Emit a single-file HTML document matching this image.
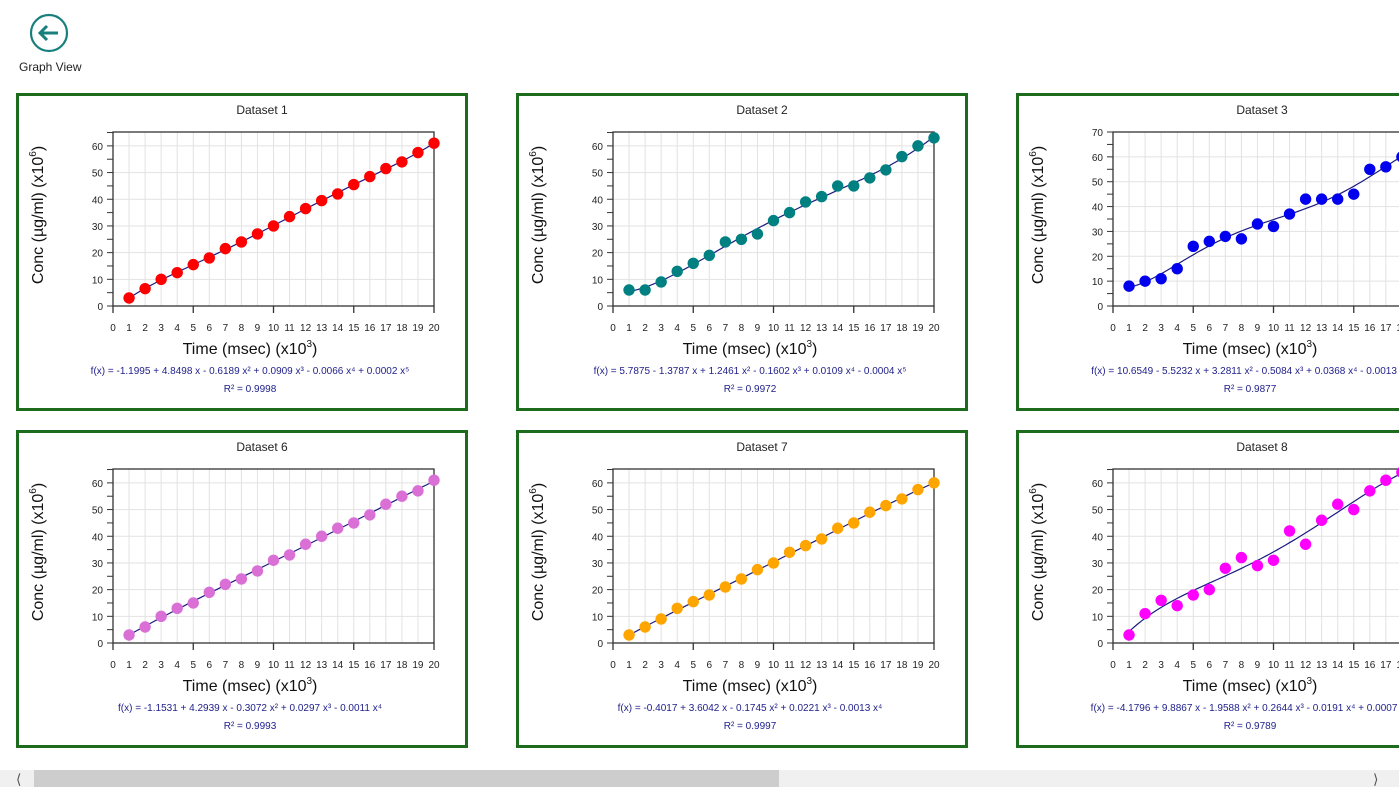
<!DOCTYPE html>
<html><head><meta charset="utf-8"><style>
html,body{margin:0;padding:0;width:1399px;height:787px;overflow:hidden;background:#fff;font-family:"Liberation Sans",sans-serif}
</style></head><body>
<svg id="s" width="1399" height="787" xmlns="http://www.w3.org/2000/svg" style="position:absolute;left:0;top:0;font-family:'Liberation Sans',sans-serif">
<circle cx="49" cy="33" r="18" fill="none" stroke="#18807c" stroke-width="2.2"/>
<path d="M40 33 H58 M47 26 L40 33 L47 40" fill="none" stroke="#18807c" stroke-width="3"/>
<text x="19" y="71" font-size="12" fill="#222">Graph View</text>
<rect x="0" y="770" width="1399" height="17" fill="#f0f0f0"/>
<rect x="34" y="770" width="745" height="17" fill="#cdcdcd"/>
<text x="16" y="784" font-size="14" fill="#555">&#10216;</text>
<text x="1373" y="784" font-size="14" fill="#555">&#10217;</text>
</svg>
<script>
const NS="http://www.w3.org/2000/svg",S=document.getElementById('s');
function el(t,a,txt){const e=document.createElementNS(NS,t);for(const k in a)e.setAttribute(k,a[k]);if(txt!=null)e.textContent=txt;S.appendChild(e);return e;}
function fit(y,deg){const n=y.length,m=deg+1,A=[],b=[];for(let i=0;i<m;i++){A.push(new Array(m).fill(0));b.push(0);}
for(let k=0;k<n;k++){const x=(k+1)/20;for(let i=0;i<m;i++){b[i]+=y[k]*Math.pow(x,i);for(let j=0;j<m;j++)A[i][j]+=Math.pow(x,i+j);}}
for(let i=0;i<m;i++){let p=i;for(let r=i+1;r<m;r++)if(Math.abs(A[r][i])>Math.abs(A[p][i]))p=r;[A[i],A[p]]=[A[p],A[i]];[b[i],b[p]]=[b[p],b[i]];
for(let r=i+1;r<m;r++){const f=A[r][i]/A[i][i];for(let c=i;c<m;c++)A[r][c]-=f*A[i][c];b[r]-=f*b[i];}}
const c=new Array(m).fill(0);for(let i=m-1;i>=0;i--){let s=b[i];for(let j=i+1;j<m;j++)s-=A[i][j]*c[j];c[i]=s/A[i][i];}
return x=>{let s=0;for(let i=0;i<m;i++)s+=c[i]*Math.pow(x/20,i);return s;};}
const P=[
{L:16,T:93,n:1,c:"#ff0000",max:65.2,d:[3,6.5,10,12.5,15.5,18,21.5,24,27,30,33.5,36.5,39.5,42,45.5,48.5,51.5,54,57.5,61],deg:5,eq:"f(x) = -1.1995 + 4.8498 x - 0.6189 x² + 0.0909 x³ - 0.0066 x⁴ + 0.0002 x⁵",r:"0.9998"},
{L:516,T:93,n:2,c:"#008080",max:65.2,d:[6,6,9,13,16,19,24,25,27,32,35,39,41,45,45,48,51,56,60,63],deg:5,eq:"f(x) = 5.7875 - 1.3787 x + 1.2461 x² - 0.1602 x³ + 0.0109 x⁴ - 0.0004 x⁵",r:"0.9972"},
{L:1016,T:93,n:3,c:"#0000ee",max:70,d:[8,10,11,15,24,26,28,27,33,32,37,43,43,43,45,55,56,60,63,66],deg:5,eq:"f(x) = 10.6549 - 5.5232 x + 3.2811 x² - 0.5084 x³ + 0.0368 x⁴ - 0.0013 x⁵",r:"0.9877"},
{L:16,T:430,n:6,c:"#da70d6",max:65.2,d:[3,6,10,13,15,19,22,24,27,31,33,37,40,43,45,48,52,55,57,61],deg:4,eq:"f(x) = -1.1531 + 4.2939 x - 0.3072 x² + 0.0297 x³ - 0.0011 x⁴",r:"0.9993"},
{L:516,T:430,n:7,c:"#ffa500",max:65.2,d:[3,6,9,13,15.5,18,21,24,27.5,30,34,36.5,39,43,45,49,51.5,54,57.5,60],deg:4,eq:"f(x) = -0.4017 + 3.6042 x - 0.1745 x² + 0.0221 x³ - 0.0013 x⁴",r:"0.9997"},
{L:1016,T:430,n:8,c:"#ff00ff",max:65.2,d:[3,11,16,14,18,20,28,32,29,31,42,37,46,52,50,57,61,64,66,68],deg:5,eq:"f(x) = -4.1796 + 9.8867 x - 1.9588 x² + 0.2644 x³ - 0.0191 x⁴ + 0.0007 x⁵",r:"0.9789"}];
for(const p of P){const L=p.L,T=p.T,x0=L+97,x1=L+418,yt=T+39,yb=T+213;
const X=v=>x0+(x1-x0)*v/20,Y=v=>yb-(yb-yt)*v/p.max;
el('rect',{x:L+1.5,y:T+1.5,width:449,height:315,fill:'#fff',stroke:'#1d6b1d','stroke-width':3});
el('text',{x:L+246,y:T+21,'font-size':12,'text-anchor':'middle',fill:'#222'},'Dataset '+p.n);
for(let i=1;i<20;i++)el('line',{x1:X(i),x2:X(i),y1:yt,y2:yb,stroke:'#e2e2e2'});
for(let v=10;v<p.max-0.01;v+=10)el('line',{x1:x0,x2:x1,y1:Y(v),y2:Y(v),stroke:'#e2e2e2'});
el('rect',{x:x0,y:yt,width:x1-x0,height:yb-yt,fill:'none',stroke:'#333','stroke-width':1.3});
for(let v=0;v<=p.max+0.01;v+=5)el('line',{x1:x0-6,x2:x0,y1:Y(v),y2:Y(v),stroke:'#333'});
for(let v=0;v<=p.max+0.01;v+=10)el('text',{x:x0-10,y:Y(v)+4,'font-size':10,'text-anchor':'end',fill:'#222'},v);
for(let i=0;i<=20;i+=5)el('line',{x1:X(i),x2:X(i),y1:yb,y2:yb+7,stroke:'#333','stroke-width':1.3});
for(let i=0;i<=20;i++)el('text',{x:X(i),y:yb+25,'font-size':10,'text-anchor':'middle',fill:'#222'},i);
const t=el('text',{x:L+234,y:T+261,'font-size':16,'text-anchor':'middle',fill:'#111'},'Time (msec) (x10');
const s1=document.createElementNS(NS,'tspan');s1.setAttribute('font-size',10);s1.setAttribute('dy',-7);s1.textContent='3';t.appendChild(s1);
const s2=document.createElementNS(NS,'tspan');s2.setAttribute('dy',7);s2.textContent=')';t.appendChild(s2);
const yl=el('text',{x:0,y:0,'font-size':16,'text-anchor':'middle',fill:'#111',transform:`translate(${L+27},${T+122}) rotate(-90)`},'Conc (µg/ml) (x10');
const u1=document.createElementNS(NS,'tspan');u1.setAttribute('font-size',10);u1.setAttribute('dy',-7);u1.textContent='6';yl.appendChild(u1);
const u2=document.createElementNS(NS,'tspan');u2.setAttribute('dy',7);u2.textContent=')';yl.appendChild(u2);
el('text',{x:L+234,y:T+281,'font-size':10,'text-anchor':'middle',fill:'#22228c'},p.eq);
el('text',{x:L+234,y:T+299,'font-size':10,'text-anchor':'middle',fill:'#22228c'},'R² = '+p.r);
const f=fit(p.d,p.deg);let pts=[];for(let x=1;x<=20.001;x+=0.25)pts.push(X(x).toFixed(1)+','+Y(f(x)).toFixed(1));
el('polyline',{points:pts.join(' '),fill:'none',stroke:'#1a1a80','stroke-width':1.2});
p.d.forEach((v,i)=>el('circle',{cx:X(i+1),cy:Y(v),r:5.7,fill:p.c}));}
</script>
</body></html>
